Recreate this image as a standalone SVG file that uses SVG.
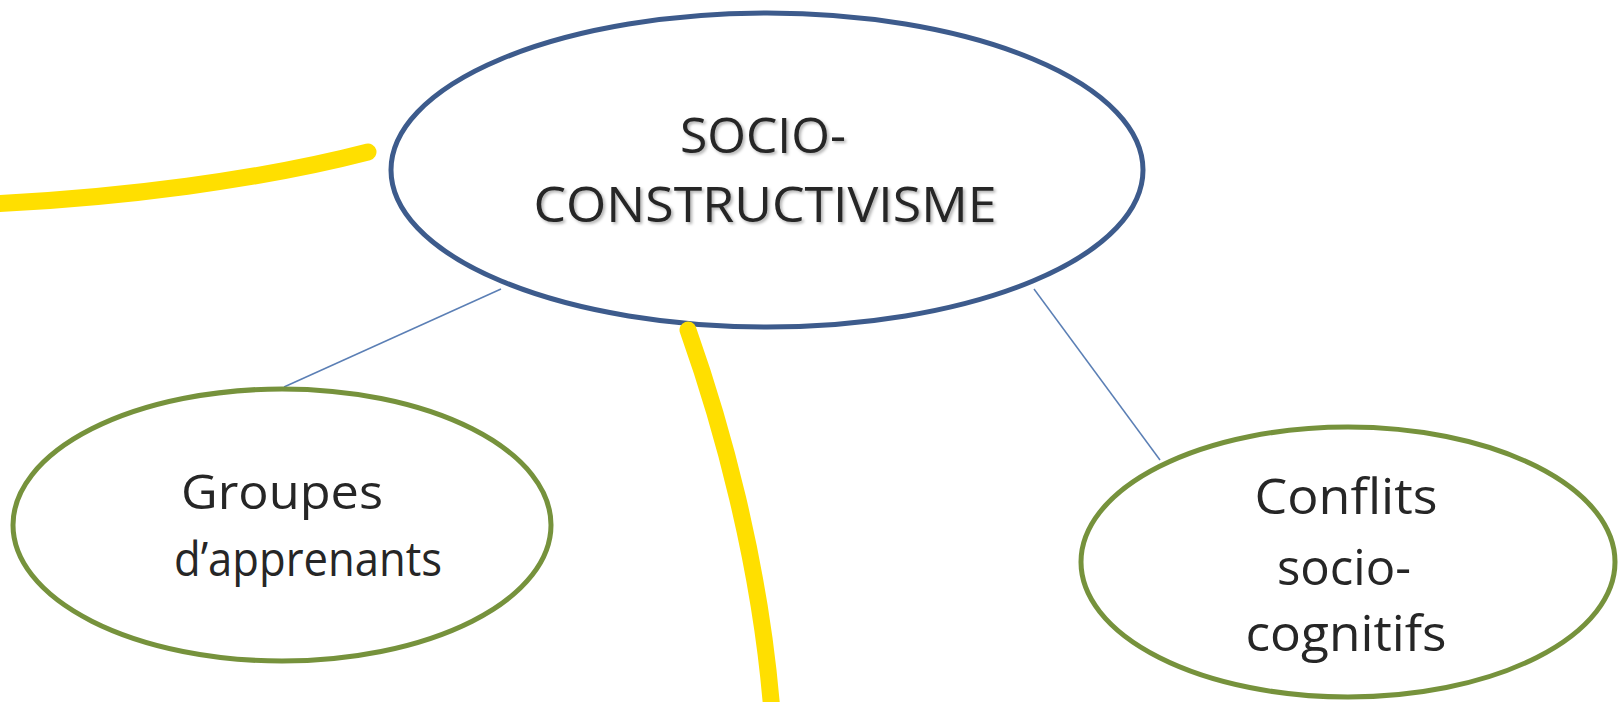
<svg xmlns="http://www.w3.org/2000/svg" width="1621" height="702" viewBox="0 0 1621 702">
<defs>
<style>
.lbl{font-family:"Open Sans","Noto Sans","Liberation Sans",sans-serif;fill:#262626;text-anchor:middle}
.main{fill:#ffffff;stroke:#3d5b8c;stroke-width:5}
.sub{fill:#ffffff;stroke:#76923c;stroke-width:5}
.conn{stroke:#5b7fb5;stroke-width:1.5;fill:none}
.hl{stroke:#ffdf00;stroke-width:17;fill:none;stroke-linecap:round}
</style>
<filter id="sh" x="-10%" y="-20%" width="120%" height="140%">
<feDropShadow dx="2" dy="2" stdDeviation="1.5" flood-color="#000" flood-opacity="0.3"/>
</filter>
</defs>
<rect width="1621" height="702" fill="#ffffff"/>
<g id="connectors">
<line class="conn" x1="501" y1="289" x2="284" y2="387"/>
<line class="conn" x1="1034" y1="289" x2="1160" y2="460"/>
</g>
<g id="node-main">
<ellipse class="main" cx="767" cy="170" rx="376" ry="157"/>
<g filter="url(#sh)">
<text class="lbl" x="763" y="153" font-size="50" textLength="166" lengthAdjust="spacingAndGlyphs">SOCIO-</text>
<text class="lbl" x="765" y="222" font-size="50" textLength="463" lengthAdjust="spacingAndGlyphs">CONSTRUCTIVISME</text>
</g>
</g>
<g id="node-groupes">
<ellipse class="sub" cx="282" cy="525" rx="269" ry="136"/>
<text class="lbl" x="282" y="509" font-size="48" textLength="202" lengthAdjust="spacingAndGlyphs">Groupes</text>
<text class="lbl" x="308" y="576" font-size="48" textLength="268" lengthAdjust="spacingAndGlyphs">d’apprenants</text>
</g>
<g id="node-conflits">
<ellipse class="sub" cx="1348" cy="562" rx="267" ry="135"/>
<text class="lbl" x="1346" y="514" font-size="50" textLength="183" lengthAdjust="spacingAndGlyphs">Conflits</text>
<text class="lbl" x="1344" y="585" font-size="50" textLength="134" lengthAdjust="spacingAndGlyphs">socio-</text>
<text class="lbl" x="1346" y="651" font-size="50" textLength="201" lengthAdjust="spacingAndGlyphs">cognitifs</text>
</g>
<g id="highlights">
<path class="hl" d="M -10 204 C 120 198 260 180 368 152"/>
<path class="hl" d="M 688 330 C 720 420 760 560 772 712"/>
</g>
</svg>
